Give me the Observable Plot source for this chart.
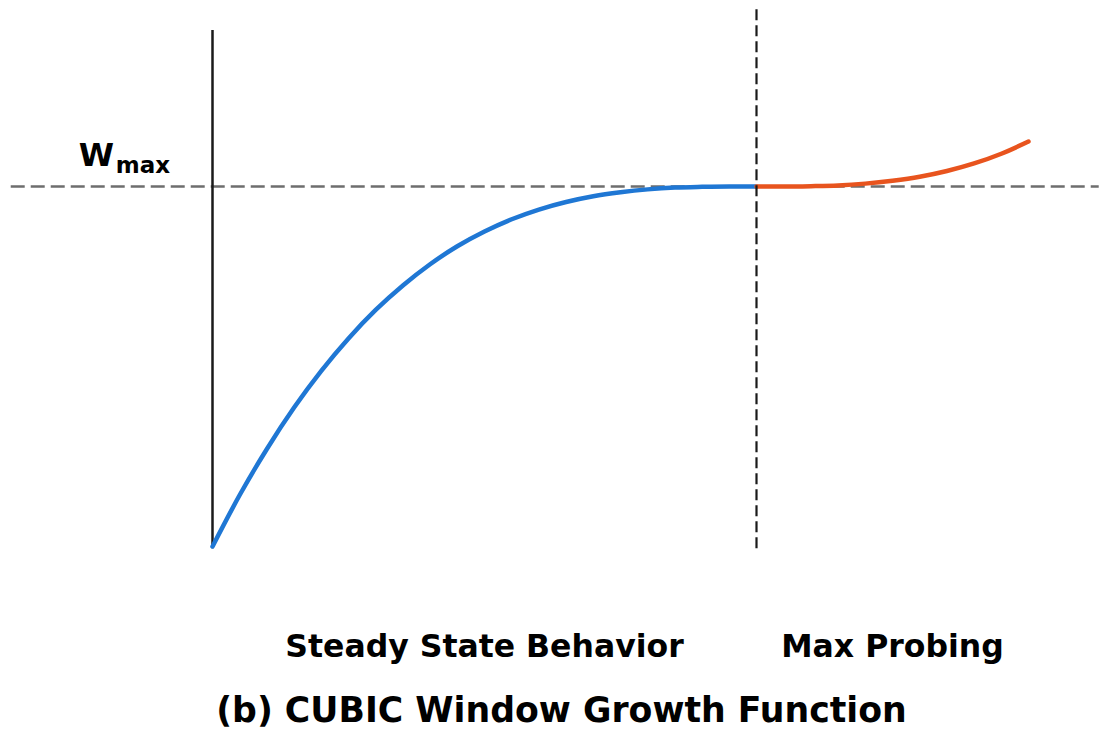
<!DOCTYPE html>
<html>
<head>
<meta charset="utf-8">
<script src="https://cdn.jsdelivr.net/npm/d3@7"></script>
<script src="https://cdn.jsdelivr.net/npm/@observablehq/plot@0.6"></script>
<style>
  html, body { margin: 0; padding: 0; background: #ffffff; }
  #chart svg { display: block; }
</style>
</head>
<body>
<div id="chart"></div>
<script>
// Steady-state (concave) region: time (units of K) vs window (Wmax = 1)
const steadyT = [0, 0.05, 0.10, 0.15, 0.20, 0.25, 0.30, 0.35, 0.40, 0.45, 0.50, 0.55, 0.60, 0.65, 0.70, 0.75, 0.80, 0.85, 0.90, 0.95, 1.00];
const steadyW = [0, 0.143, 0.271, 0.386, 0.488, 0.578, 0.657, 0.725, 0.784, 0.834, 0.875, 0.909, 0.936, 0.957, 0.973, 0.984, 0.992, 0.997, 0.999, 1.000, 1.000];
// Max probing (convex) region
const probeT = [1.00, 1.05, 1.10, 1.15, 1.20, 1.25, 1.30, 1.35, 1.40, 1.45, 1.50];
const probeW = [1.000, 1.000, 1.001, 1.003, 1.008, 1.016, 1.027, 1.043, 1.064, 1.091, 1.125];

const wmax = 1;          // W_max level
const kTime = 1;         // time K where W returns to W_max
const hLineSpan = [-0.37, 1.63];
const axisSpan = [-0.006, 1.433];
const kLineSpan = [-0.006, 1.494];

const regionLabels = ["Steady State Behavior", "Max Probing"];
const regionCenters = [0.5, 1.25];
const regionLabelW = -0.278;
const title = "(b) CUBIC Window Growth Function";
const titlePos = {t: 0.6415, w: -0.458};
const wLabel = {t: -0.246, w: 1.086, main: "W", sub: "max", subT: -0.178, subW: 1.059};

const steady = steadyT.map((t, i) => ({t, w: steadyW[i]}));
const probe = probeT.map((t, i) => ({t, w: probeW[i]}));

const chart = Plot.plot({
  width: 1103,
  height: 729,
  margin: 0,
  style: {background: "#ffffff", fontFamily: "DejaVu Sans, sans-serif"},
  x: {domain: [0, 1], range: [212, 756], axis: null},
  y: {domain: [0, 1], range: [546, 186], axis: null},
  marks: [
    Plot.ruleY([wmax], {x1: hLineSpan[0], x2: hLineSpan[1], stroke: "#6e6e6e", strokeWidth: 2.5, strokeDasharray: "14,6"}),
    Plot.ruleX([0], {y1: axisSpan[0], y2: axisSpan[1], stroke: "#1a1a1a", strokeWidth: 2.5}),
    Plot.line(steady, {x: "t", y: "w", stroke: "#1f77d4", strokeWidth: 4.5, curve: "monotone-x"}),
    Plot.line(probe, {x: "t", y: "w", stroke: "#e8541e", strokeWidth: 4.5, curve: "monotone-x"}),
    Plot.ruleX([kTime], {y1: kLineSpan[0], y2: kLineSpan[1], stroke: "#1a1a1a", strokeWidth: 2.2, strokeDasharray: "11,5"}),
    Plot.text([wLabel], {x: "t", y: "w", text: d => d.main, textAnchor: "start", fontSize: 32, fontWeight: "bold", fill: "#000"}),
    Plot.text([wLabel], {x: "subT", y: "subW", text: d => d.sub, textAnchor: "start", fontSize: 23, fontWeight: "bold", fill: "#000"}),
    Plot.text(regionLabels, {x: (d, i) => regionCenters[i], y: regionLabelW, text: d => d, fontSize: 31.5, fontWeight: "bold", fill: "#000"}),
    Plot.text([title], {x: titlePos.t, y: titlePos.w, text: d => d, fontSize: 34.7, fontWeight: "bold", fill: "#000"})
  ]
});
document.getElementById("chart").appendChild(chart);
</script>
</body>
</html>
